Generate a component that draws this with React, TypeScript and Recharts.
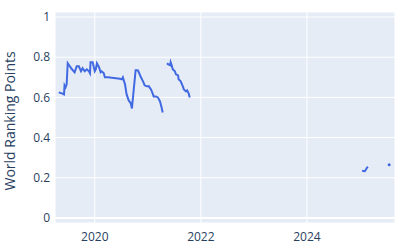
import { LineChart, Line, XAxis, YAxis, CartesianGrid, ReferenceLine } from "recharts";

// decimal years, null entries break the line
const YEARS = [
  2019.32, 2019.38, 2019.42, 2019.43, 2019.45, 2019.47, 2019.49, 2019.53, 2019.57, 2019.62,
  2019.66, 2019.7, 2019.74, 2019.77, 2019.81, 2019.85, 2019.89, 2019.91, 2019.92, 2019.96,
  2020.0, 2020.02, 2020.04, 2020.08, 2020.11, 2020.13, 2020.17, 2020.19, 2020.25, 2020.32,
  2020.4, 2020.47, 2020.51, 2020.53, 2020.57, 2020.6, 2020.64, 2020.68, 2020.7, 2020.77,
  2020.81, 2020.83, 2020.87, 2020.91, 2020.94, 2020.98, 2021.02, 2021.06, 2021.09, 2021.11,
  2021.15, 2021.19, 2021.23, 2021.26, 2021.28,
  2021.32,
  2021.36, 2021.38, 2021.42, 2021.43, 2021.45, 2021.47, 2021.51, 2021.53, 2021.57, 2021.58,
  2021.62, 2021.66, 2021.68, 2021.72, 2021.74, 2021.77, 2021.79,
  2023.0,
  2025.04, 2025.09, 2025.11, 2025.13, 2025.15,
  2025.35,
  2025.55,
];

const POINTS: (number | null)[] = [
  0.625, 0.62, 0.615, 0.66, 0.65, 0.665, 0.77, 0.755, 0.74, 0.725,
  0.755, 0.755, 0.73, 0.745, 0.73, 0.74, 0.73, 0.72, 0.775, 0.775,
  0.73, 0.74, 0.77, 0.75, 0.725, 0.73, 0.72, 0.7, 0.7, 0.6975,
  0.695, 0.6925, 0.69, 0.7, 0.665, 0.615, 0.585, 0.57, 0.545, 0.735,
  0.735, 0.725, 0.7, 0.68, 0.66, 0.655, 0.655, 0.64, 0.62, 0.605,
  0.605, 0.6, 0.58, 0.55, 0.525,
  null,
  0.77, 0.765, 0.76, 0.775, 0.76, 0.74, 0.73, 0.715, 0.71, 0.69,
  0.68, 0.655, 0.64, 0.63, 0.635, 0.62, 0.6,
  null,
  0.235, 0.2325, 0.24, 0.25, 0.255,
  null,
  0.265,
];

const X_TICKS = [2020, 2022, 2024];
const Y_TICKS = [0, 0.2, 0.4, 0.6, 0.8, 1];

const data = YEARS.map((year, i) => ({ year, points: POINTS[i] }));

const FONT = '"Open Sans", verdana, arial, sans-serif';
const TEXT = "#2a3f5f";

const isolated = (i: number) =>
  data[i].points != null && data[i - 1]?.points == null && data[i + 1]?.points == null;

export default function App() {
  return (
    <div style={{ position: "absolute", left: 0, top: 0, width: 400, height: 250, background: "#fff" }}>
      <LineChart width={400} height={250} data={data} margin={{ top: 12, right: 5, left: 0, bottom: 0 }}>
        <CartesianGrid fill="#E5ECF6" stroke="#fff" strokeWidth={1} />
        <XAxis
          type="number"
          dataKey="year"
          domain={[2019.25, 2025.66]}
          ticks={X_TICKS}
          allowDataOverflow
          height={27}
          axisLine={false}
          tickLine={false}
          tickSize={0}
          tickMargin={9}
          tick={{ fontSize: 12, fill: TEXT, fontFamily: FONT }}
        />
        <YAxis
          type="number"
          domain={[-0.025, 1.025]}
          ticks={Y_TICKS}
          allowDataOverflow
          width={55}
          axisLine={false}
          tickLine={false}
          tickSize={0}
          tickMargin={5}
          tick={{ fontSize: 12, fill: TEXT, fontFamily: FONT }}
          tickFormatter={(v: number) => String(Number(v.toFixed(1)))}
          label={{
            value: "World Ranking Points",
            angle: -90,
            position: "insideLeft",
            dx: 5,
            dy: 73,
            style: { fontSize: 14, fill: TEXT, fontFamily: FONT },
          }}
        />
        <ReferenceLine y={0} stroke="#fff" strokeWidth={2} />
        <Line
          type="linear"
          dataKey="points"
          stroke="#4169E1"
          strokeWidth={2}
          connectNulls={false}
          isAnimationActive={false}
          activeDot={false}
          dot={(props: any) =>
            isolated(props.index) ? (
              <circle key={props.index} cx={props.cx} cy={props.cy} r={1.5} fill="#4169E1" />
            ) : (
              <g key={props.index} />
            )
          }
        />
      </LineChart>
    </div>
  );
}
